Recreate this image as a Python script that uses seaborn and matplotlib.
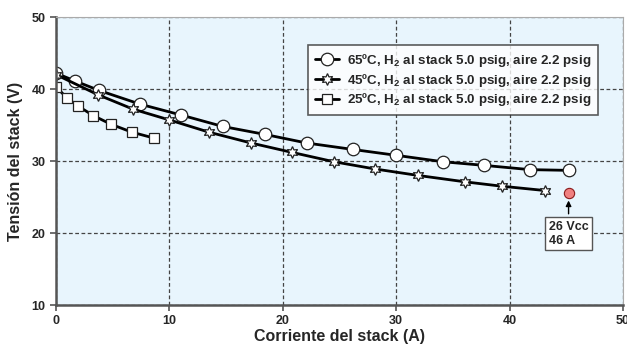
import numpy as np
import pandas as pd
import matplotlib
matplotlib.use("Agg")
import matplotlib.pyplot as plt
import seaborn as sns

# values
corriente_65 = [0.0, 1.7, 3.8, 7.4, 11.0, 14.7, 18.4, 22.1, 26.2, 29.95, 34.1, 37.7, 41.8, 45.2]
tension_65 = [42.2, 41.1, 39.8, 37.9, 36.4, 34.8, 33.7, 32.5, 31.6, 30.8, 29.9, 29.4, 28.8, 28.7]

corriente_45 = [0.0, 3.7, 6.8, 10.0, 13.5, 17.2, 20.8, 24.5, 28.1, 31.9, 36.1, 39.3, 43.1]
tension_45 = [42.0, 39.2, 37.2, 35.7, 34.0, 32.5, 31.2, 29.9, 28.9, 28.0, 27.1, 26.5, 25.9]

corriente_25 = [0.0, 0.94, 1.97, 3.3, 4.85, 6.7, 8.6]
tension_25 = [40.3, 38.8, 37.6, 36.3, 35.1, 34.0, 33.2]

punto_x = [45.2]
punto_y = [25.6]
punto_texto = "26 Vcc\n46 A"

etiquetas = ["65ºC, H$_2$ al stack 5.0 psig, aire 2.2 psig",
             "45ºC, H$_2$ al stack 5.0 psig, aire 2.2 psig",
             "25ºC, H$_2$ al stack 5.0 psig, aire 2.2 psig"]

sns.set_style("white")
plt.rcParams['font.family'] = ['Liberation Sans', 'DejaVu Sans']
plt.rcParams['font.weight'] = 'bold'
plt.rcParams['mathtext.fontset'] = 'custom'
plt.rcParams['mathtext.rm'] = 'Liberation Sans:bold'
plt.rcParams['mathtext.default'] = 'rm'

fig = plt.figure(figsize=(6.27, 3.47), dpi=100)
ax = fig.add_axes([56 / 627, 42 / 347, 567 / 627, 288 / 347])
ax.set_facecolor('#e8f5fd')

series = [
    (corriente_65, tension_65, 'o', 9, etiquetas[0]),
    (corriente_45, tension_45, (6, 1, 0), 8.5, etiquetas[1]),
    (corriente_25, tension_25, 's', 7.5, etiquetas[2]),
]
for xs, ys, mk, ms, lab in series:
    df = pd.DataFrame({"x": xs, "y": ys})
    sns.lineplot(data=df, x="x", y="y", ax=ax, color='black', linewidth=2.0,
                 marker=mk, markersize=ms, markerfacecolor='white',
                 markeredgecolor='#222222', markeredgewidth=0.9, label=lab)

sns.scatterplot(x=punto_x, y=punto_y, ax=ax, s=55, color='#f08080',
                edgecolor='#8b1a1a', linewidth=0.8, zorder=5)
ax.annotate(punto_texto, xy=(punto_x[0], punto_y[0] - 0.7), xytext=(punto_x[0], 19.9),
            ha='center', va='center', multialignment='left', fontsize=9, fontweight='bold',
            bbox=dict(boxstyle='square,pad=0.3', fc='white', ec='#555555', lw=1),
            arrowprops=dict(arrowstyle='-|>', color='black', lw=1, mutation_scale=8))

ax.set_xlim(0, 50)
ax.set_ylim(10, 50)
ax.set_xticks([0, 10, 20, 30, 40, 50])
ax.set_yticks([10, 20, 30, 40, 50])
ax.grid(True, linestyle=(0, (3, 2)), color='#444444', linewidth=0.9)
ax.tick_params(labelsize=9, length=4, width=1.2, direction='out', left=True, bottom=True, color='#555555')
for lab in ax.get_xticklabels() + ax.get_yticklabels():
    lab.set_fontweight('bold')
for s in ['left', 'bottom']:
    ax.spines[s].set_color('#555555')
    ax.spines[s].set_linewidth(1.8)
for s in ['top', 'right']:
    ax.spines[s].set_color('#aaaaaa')
    ax.spines[s].set_linewidth(0.8)

ax.set_xlabel("Corriente del stack (A)", fontsize=11.5, fontweight='bold', labelpad=1)
ax.set_ylabel("Tensión del stack (V)", fontsize=11.5, fontweight='bold', labelpad=6)

leg = ax.legend(loc='upper left', bbox_to_anchor=(0.433, 0.925), fontsize=9.6,
                frameon=True, fancybox=False, handlelength=1.8, borderpad=0.5,
                labelspacing=0.2, handletextpad=0.6)
leg.get_frame().set_edgecolor('#333333')
leg.get_frame().set_linewidth(1.2)
for t in leg.get_texts():
    t.set_fontweight('bold')

fig.savefig("out.png", dpi=100)
